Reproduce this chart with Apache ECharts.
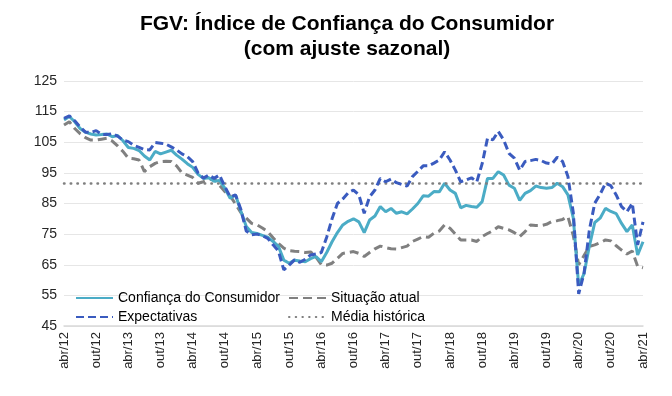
<!DOCTYPE html>
<html>
<head>
<meta charset="utf-8">
<script src="https://cdn.jsdelivr.net/npm/echarts@6/dist/echarts.min.js"></script>
<style>
  html, body { margin: 0; padding: 0; background: #fff; }
  #chart { width: 672px; height: 396px; }
</style>
</head>
<body>
<div id="chart"></div>
<script>
// meses de abr/12 a abr/21
var meses = ['jan', 'fev', 'mar', 'abr', 'mai', 'jun', 'jul', 'ago', 'set', 'out', 'nov', 'dez'];
var categorias = [];
for (var k = 0; k < 109; k++) {
    var m = (3 + k) % 12;
    var ano = 12 + Math.floor((3 + k) / 12);
    categorias.push(meses[m] + '/' + ano);
}

var confianca = [112.3, 113.4, 111.7, 109.5, 108.3, 107.7, 107.4, 107.5, 107.7, 106.8, 107.2, 105.5,
    103.3, 103.0, 102.3, 100.5, 99.2, 102.0, 101.2, 101.8, 102.4, 100.8, 99.5, 98.0,
    96.8, 94.5, 93.2, 93.4, 92.3, 92.5, 90.0, 86.7, 87.8, 82.5, 77.5, 75.5,
    75.2, 74.6, 74.0, 72.6, 71.0, 66.5, 65.5, 66.5, 66.2, 66.0, 67.0, 67.7,
    66.0, 69.0, 72.5, 75.5, 78.0, 79.2, 80.0, 79.0, 75.5, 79.6, 80.9, 84.0,
    82.3, 83.4, 81.8, 82.3, 81.6, 83.2, 85.0, 87.5, 87.4, 88.9, 88.8, 91.6,
    89.4, 88.3, 83.6, 84.4, 84.0, 83.8, 85.6, 93.2, 93.2, 95.4, 94.3, 91.0,
    90.0, 86.0, 88.3, 89.2, 90.7, 90.2, 90.0, 90.2, 91.6, 90.5, 87.8, 80.2,
    58.2, 62.1, 71.1, 78.8, 80.2, 83.4, 82.4, 81.7, 78.5, 75.8, 78.0, 68.2,
    72.5];

var expectativas = [112.8, 113.6, 112.0, 110.0, 108.3, 108.2, 108.8, 107.6, 107.5, 107.8, 107.0, 105.7,
    105.2, 104.0, 103.3, 102.6, 102.5, 104.9, 104.7, 104.4, 103.5, 102.5, 101.2, 100.3,
    98.7, 95.0, 93.3, 94.3, 93.2, 94.3, 90.5, 87.2, 87.8, 83.0, 76.0, 74.8,
    75.0, 74.5, 73.6, 71.5, 69.5, 63.3, 64.9, 66.6, 65.8, 66.8, 68.2, 68.5,
    69.0, 74.0, 80.0, 85.0, 86.5, 88.5, 89.4, 87.8, 81.8, 87.2, 89.4, 93.2,
    92.1, 93.0, 91.8, 91.2, 90.7, 93.8, 95.5, 97.3, 97.3, 98.2, 99.2, 101.9,
    99.2, 95.9, 92.1, 92.7, 93.4, 92.1, 98.0, 106.3, 105.8, 108.5, 105.8, 101.4,
    99.8, 95.9, 98.7, 99.0, 99.4, 99.0, 98.2, 97.9, 100.1, 98.7, 93.8, 82.0,
    55.5, 62.2, 76.4, 85.1, 88.0, 91.6, 90.8, 87.8, 84.0, 82.3, 85.1, 71.5,
    79.0];

var situacaoAtual = [110.6, 111.7, 109.5, 107.8, 106.5, 105.7, 105.7, 106.0, 106.3, 105.4, 103.8, 102.0,
    99.8, 99.6, 99.2, 95.4, 97.0, 98.1, 98.7, 98.8, 98.7, 97.3, 95.0, 94.3,
    93.5, 91.6, 92.1, 92.8, 93.2, 91.0, 88.9, 87.5, 84.8, 82.0, 80.2, 78.5,
    78.0, 77.0, 75.8, 73.8, 72.0, 70.4, 69.6, 69.4, 69.3, 69.0, 69.2, 67.5,
    65.0, 64.9, 65.5, 67.1, 68.7, 69.0, 69.3, 68.7, 67.7, 69.0, 70.2, 71.1,
    70.6, 70.2, 70.1, 70.6, 71.1, 72.6, 73.4, 74.2, 74.0, 75.3, 76.0, 78.0,
    76.9, 75.0, 73.1, 73.1, 73.1, 72.6, 74.2, 75.2, 76.1, 77.4, 76.9, 76.4,
    75.5, 74.2, 75.8, 78.0, 77.8, 77.8, 78.2, 79.1, 79.4, 79.8, 80.7, 74.5,
    65.0, 68.0, 71.0, 71.5, 72.2, 73.1, 72.8, 71.2, 69.8, 68.5, 69.5, 64.5,
    64.0];

var mediaHistorica = 91.6;

var fonte = 'Liberation Sans, Arial, sans-serif';
var corConf = '#4bacc6';
var corExp = '#3a5bbf';
var corSit = '#808080';
var corMedia = '#7f7f7f';

var estiloLegenda = {
    orient: 'vertical',
    top: 291,
    padding: 0,
    itemWidth: 37,
    itemHeight: 12,
    itemGap: 5,
    itemStyle: { opacity: 0 },
    textStyle: { fontFamily: fonte, fontSize: 14, color: '#000' }
};

var myChart = echarts.init(document.getElementById('chart'));
myChart.setOption({
    animation: false,
    title: {
        text: 'FGV: Índice de Confiança do Consumidor\n(com ajuste sazonal)',
        left: 342,
        top: 7,
        textAlign: 'center',
        textStyle: {
            fontFamily: fonte,
            fontSize: 21,
            fontWeight: 'bold',
            color: '#000',
            lineHeight: 25
        }
    },
    legend: [
        Object.assign({}, estiloLegenda, {
            left: 75,
            data: ['Confiança do Consumidor', 'Expectativas']
        }),
        Object.assign({}, estiloLegenda, {
            left: 288,
            data: ['Situação atual', 'Média histórica']
        })
    ],
    grid: {
        left: 64,
        right: 29,
        top: 81,
        bottom: 70
    },
    xAxis: {
        type: 'category',
        boundaryGap: false,
        data: categorias,
        axisTick: { show: false },
        axisLine: { lineStyle: { color: '#d9d9d9', width: 1.5 } },
        axisLabel: {
            interval: 5,
            rotate: 90,
            margin: 6,
            fontFamily: fonte,
            fontSize: 13,
            color: '#262626'
        }
    },
    yAxis: {
        type: 'value',
        min: 45,
        max: 125,
        interval: 10,
        axisLine: { show: false },
        axisTick: { show: false },
        splitLine: { lineStyle: { color: '#e6e6e6', width: 1 } },
        axisLabel: {
            margin: 7,
            fontFamily: fonte,
            fontSize: 14,
            color: '#262626'
        }
    },
    series: [
        {
            name: 'Confiança do Consumidor',
            type: 'line',
            data: confianca,
            symbol: 'none',
            z: 4,
            lineStyle: { color: corConf, width: 3 },
            itemStyle: { color: corConf }
        },
        {
            name: 'Situação atual',
            type: 'line',
            data: situacaoAtual,
            symbol: 'none',
            z: 3,
            lineStyle: { color: corSit, width: 3, type: [9, 5] },
            itemStyle: { color: corSit }
        },
        {
            name: 'Expectativas',
            type: 'line',
            data: expectativas,
            symbol: 'none',
            z: 5,
            lineStyle: { color: corExp, width: 3, type: [8, 4] },
            itemStyle: { color: corExp }
        },
        {
            name: 'Média histórica',
            type: 'line',
            data: [],
            symbol: 'none',
            z: 2,
            lineStyle: { color: corMedia, width: 2.5, type: [0.5, 6.2], cap: 'round' },
            itemStyle: { color: corMedia },
            markLine: {
                silent: true,
                symbol: 'none',
                label: { show: false },
                lineStyle: { color: corMedia, width: 2.5, type: [0.5, 6.2], cap: 'round' },
                data: [{ yAxis: mediaHistorica }]
            }
        }
    ]
});
</script>
</body>
</html>
